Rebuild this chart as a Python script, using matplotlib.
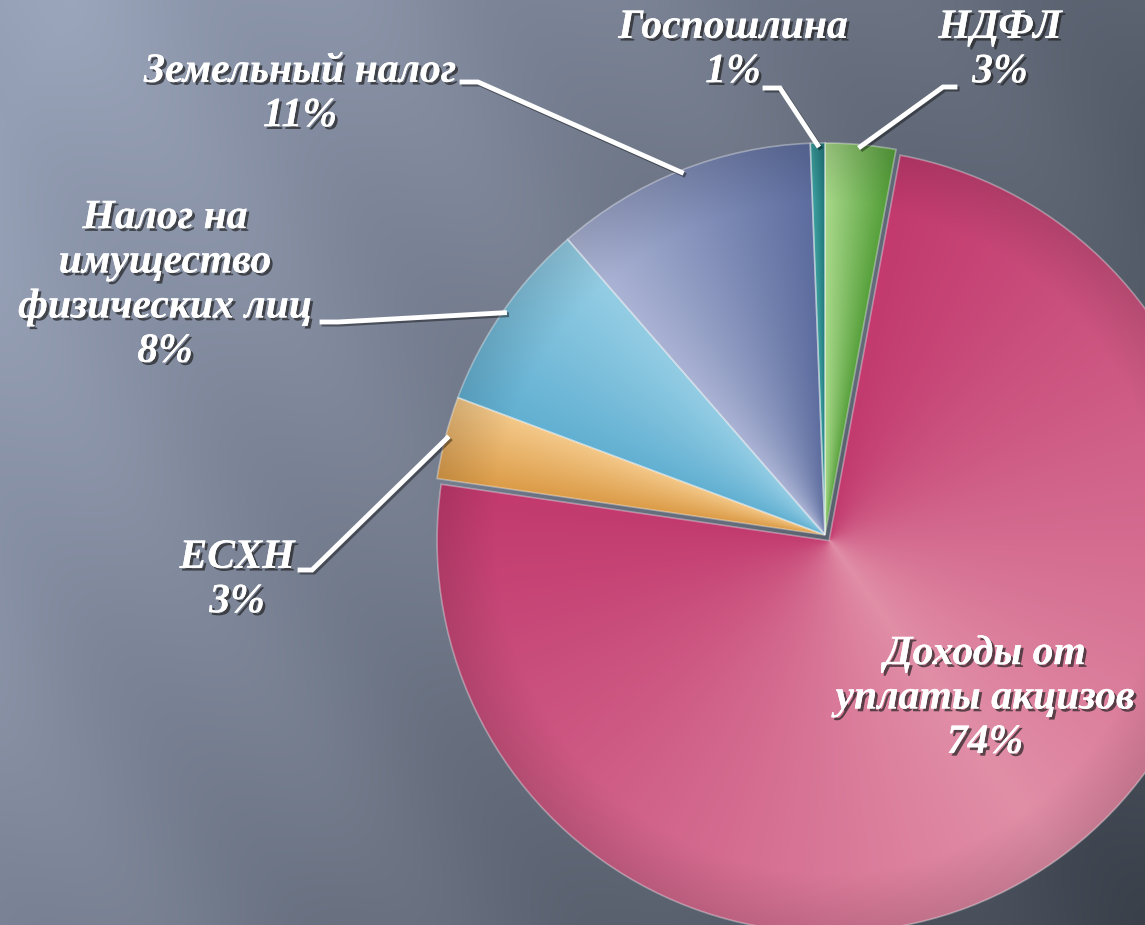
import numpy as np
import matplotlib.pyplot as plt
import matplotlib.patheffects as pe
from matplotlib.colors import to_rgb

# data, clockwise from 12 o'clock
labels = ['НДФЛ', 'Доходы от\nуплаты акцизов', 'ЕСХН',
          'Налог на\nимущество\nфизических лиц', 'Земельный налог', 'Госпошлина']
shares = [2.9, 74.4, 3.4, 7.9, 10.8, 0.6]
pct_labels = ['3%', '74%', '3%', '8%', '11%', '1%']

# colours: clockwise edge -> counter-clockwise edge of each slice
col_cw = ['#559f3a', '#c23a6e', '#f4c98a', '#94cde4', '#5c6c9e', '#1f7478']
col_ccw = ['#a8d88a', '#e18ea7', '#dc9c48', '#62b0d2', '#aab3d4', '#3ea0a0']

W, H = 1145, 925
cx, cy, R = 825, H - 535, 392

fig = plt.figure(figsize=(W / 100, H / 100), dpi=100)
ax = fig.add_axes([0, 0, 1, 1])

# background gradient
yy, xx = np.mgrid[0:H, 0:W]
u = (xx / W) * 0.75 + (yy / H) * 0.35
bg_l = np.array(to_rgb('#97a1b7'))
bg_d = np.array(to_rgb('#3d434d'))
f = np.clip((u - 0.05) / 1.05, 0, 1)[..., None]
streak = 0.012 * np.sin((xx - yy * 0.7) / 45.0)[..., None]
bg = bg_l * (1 - f) + bg_d * f + streak
ax.imshow(np.clip(bg, 0, 1), extent=(0, W, 0, H), origin='upper', zorder=0)

wedges, _ = ax.pie(shares, startangle=90, counterclock=False,
                   center=(cx, cy), radius=R,
                   explode=[0, 7, 0, 0, 0, 0],
                   wedgeprops=dict(linewidth=1.2, edgecolor=(1, 1, 1, 0.35)))

# angular shading inside each wedge
for i, w in enumerate(wedges):
    w.set_zorder(2)
    x0, y0 = w.center
    t1, t2 = w.theta1, w.theta2
    ang = np.degrees(np.arctan2(yy[::-1] - y0, xx - x0))
    t = ((ang - t1) % 360) / (t2 - t1)
    t = np.clip(t, 0, 1)
    if i == 1:
        t = 1 - np.abs(t - 0.5) * 2
    r = np.hypot(xx - x0, yy[::-1] - y0) / R
    c0, c1 = np.array(to_rgb(col_cw[i])), np.array(to_rgb(col_ccw[i]))
    img = c0 * (1 - t[..., None]) + c1 * t[..., None]
    img = img * (1 - 0.12 * np.clip(r - 0.85, 0, 1)[..., None] / 0.15)
    im = ax.imshow(np.clip(img, 0, 1), extent=(0, W, 0, H), origin='upper', zorder=1.5)
    im.set_clip_path(w)
    w.set_facecolor('none')

# label layout (pixel coords, y from top): text centre, elbow, line end
text_pos = [(1000, 50), (985, 698), (237, 580), (165, 285), (300, 94), (733, 50)]
elbow = [(943, 87), None, (312, 570), (338, 322), (478, 82), (780, 88)]
tail = [(955, 87), None, (300, 570), (322, 322), (462, 82), (765, 88)]

shadow = [pe.withSimplePatchShadow(offset=(2, -2), shadow_rgbFace='#222222', alpha=0.7),
          pe.Normal()]

for i, w in enumerate(wedges):
    tx, ty = text_pos[i]
    ax.text(tx, H - ty, labels[i] + '\n' + pct_labels[i], ha='center', va='center',
            multialignment='center', color='white', fontsize=30,
            fontfamily='Liberation Serif', fontweight='bold', fontstyle='italic',
            linespacing=1.22, zorder=5, path_effects=shadow)
    if elbow[i] is None:
        continue
    mid = np.radians((w.theta1 + w.theta2) / 2)
    px = w.center[0] + R * 0.995 * np.cos(mid)
    py = w.center[1] + R * 0.995 * np.sin(mid)
    ex, ey = elbow[i]
    sx, sy = tail[i]
    ax.plot([px, ex, sx], [py, H - ey, H - sy], color='white', lw=3.5,
            solid_joinstyle='miter', zorder=4,
            path_effects=[pe.SimpleLineShadow(offset=(1.5, -1.5), alpha=0.4), pe.Normal()])

ax.set_xlim(0, W)
ax.set_ylim(0, H)
ax.set_aspect('auto')
ax.axis('off')

fig.savefig('out.png', dpi=100)
